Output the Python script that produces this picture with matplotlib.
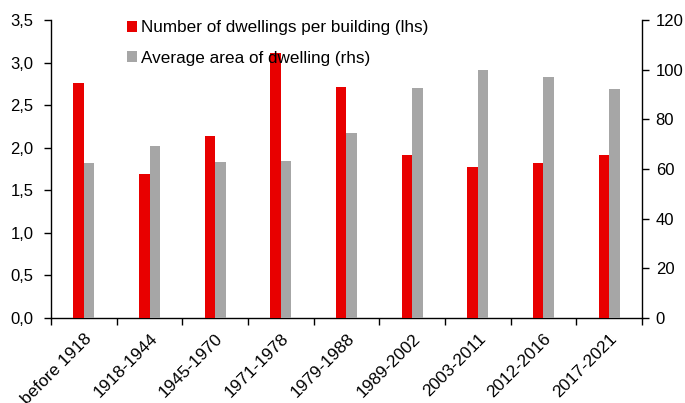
import matplotlib
matplotlib.use("Agg")
import matplotlib.pyplot as plt
import numpy as np
from matplotlib.ticker import FixedLocator, FuncFormatter
from matplotlib.transforms import ScaledTranslation

plt.rcParams['font.family'] = ['Liberation Sans', 'DejaVu Sans']

periods = ["before 1918", "1918-1944", "1945-1970", "1971-1978", "1979-1988",
           "1989-2002", "2003-2011", "2012-2016", "2017-2021"]
dwellings_per_building = [2.76, 1.69, 2.14, 3.11, 2.71, 1.92, 1.78, 1.82, 1.92]
avg_dwelling_area = [62.5, 69.4, 63.0, 63.4, 74.4, 92.5, 99.9, 96.9, 92.1]

red = "#E80000"
grey = "#A6A6A6"
fs = 12

fig = plt.figure(figsize=(6.85, 4.03), dpi=100)
ax = fig.add_axes([0.0745, 0.211, 0.8625, 0.739])
ax2 = ax.twinx()

x = np.arange(len(periods))
w = 0.16
b1 = ax.bar(x - w / 2, dwellings_per_building, width=w, color=red, zorder=3)
b2 = ax2.bar(x + w / 2, avg_dwelling_area, width=w, color=grey, zorder=3)

ax.set_xlim(-0.5, len(periods) - 0.5)
ax.set_ylim(0, 3.5)
ax2.set_ylim(0, 120)
ax.set_yticks(np.arange(0, 3.51, 0.5))
ax.yaxis.set_major_formatter(FuncFormatter(lambda v, p: f"{v:.1f}".replace(".", ",")))
ax2.set_yticks(np.arange(0, 121, 20))

# category labels at bar-pair centres, tick marks on category boundaries
ax.set_xticks(x)
ax.set_xticklabels(periods, rotation=45, ha="right", rotation_mode="anchor", fontsize=12.4)
shift = ScaledTranslation(-5 / 72, 0, fig.dpi_scale_trans)
for lbl in ax.get_xticklabels():
    lbl.set_transform(lbl.get_transform() + shift)
ax.xaxis.set_minor_locator(FixedLocator(np.arange(-0.5, len(periods), 1.0)))
ax.tick_params(axis="x", which="major", length=0, pad=9.5)
ax.tick_params(axis="x", which="minor", length=5, width=1, direction="out")
ax.tick_params(axis="y", length=5, width=1, direction="out", labelsize=fs, pad=7.5)
ax2.tick_params(axis="y", length=5, width=1, direction="out", labelsize=fs, pad=5)

for a in (ax, ax2):
    a.spines["top"].set_visible(False)
    for s in ("left", "right", "bottom"):
        a.spines[s].set_linewidth(1)
        a.spines[s].set_color("black")
ax.spines["right"].set_visible(False)
ax2.spines["left"].set_visible(False)
ax2.spines["bottom"].set_visible(False)

leg = ax.legend([b1, b2],
                ["Number of dwellings per building (lhs)", "Average area of dwelling (rhs)"],
                loc="upper left", bbox_to_anchor=(0.1165, 1.022), frameon=False,
                fontsize=12.3, handlelength=0.6, handleheight=0.6, handletextpad=0.25,
                labelspacing=0.9, borderaxespad=0)
leg.set_zorder(5)

fig.savefig("out.png", dpi=100)
